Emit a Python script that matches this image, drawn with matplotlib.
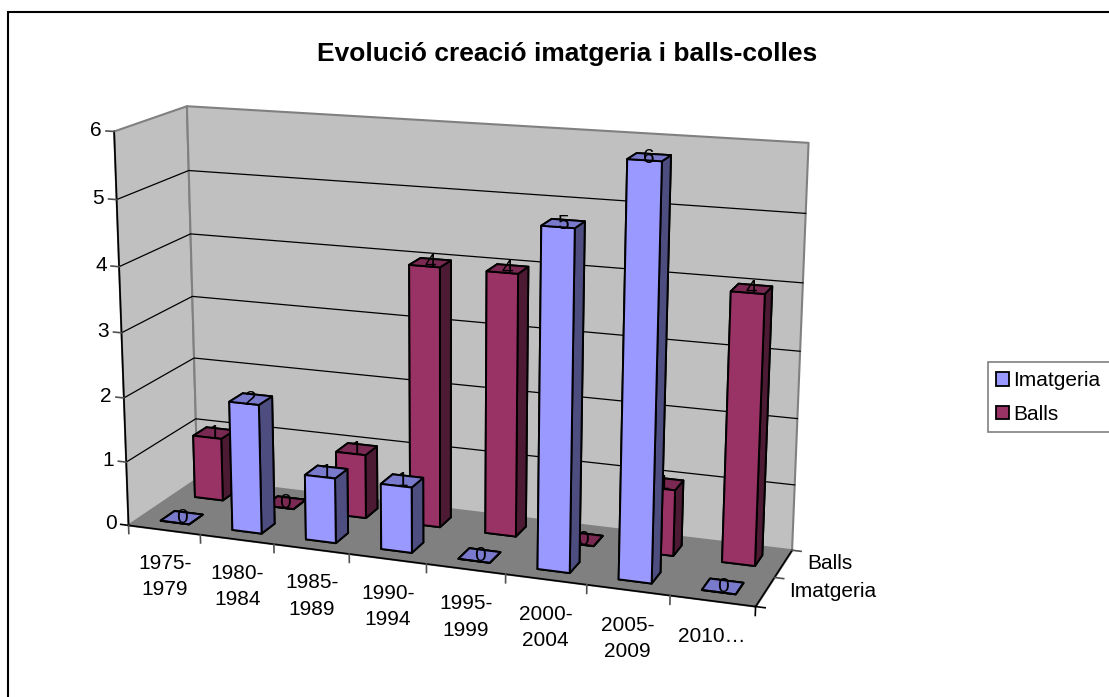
import numpy as np
import matplotlib
matplotlib.use("Agg")
import matplotlib.pyplot as plt
from matplotlib.patches import Patch, Rectangle
from mpl_toolkits.mplot3d import proj3d
from mpl_toolkits.mplot3d.art3d import Poly3DCollection

W, H = 1109, 697
plt.rcParams["font.family"] = ["Liberation Sans", "DejaVu Sans"]

categories = ["1975-\n1979", "1980-\n1984", "1985-\n1989", "1990-\n1994",
              "1995-\n1999", "2000-\n2004", "2005-\n2009", "2010…"]
imatgeria = [0, 2, 1, 1, 0, 5, 6, 0]
balls = [1, 0, 1, 4, 4, 0, 1, 4]
series_names = ["Imatgeria", "Balls"]
title = "Evolució creació imatgeria i balls-colles"

# faces: -z, +z, -y, +y, -x, +x
IMAT = ["#7A7ACC", "#7A7ACC", "#9999FF", "#9999FF", "#4D4D80", "#4D4D80"]
BALL = ["#7A2952", "#7A2952", "#993366", "#993366", "#4D1A33", "#4D1A33"]
FS = 15

# where the box and a few bar corners sit in the picture, used for the camera
anchors = [((0,0,0),(128.3,525)),((0,0,6),(113.3,131.3)),((0,2,6),(187.3,106.7)),((0,2,5),(190,170)),
           ((0,0,5),(116,199.3)),((0,0,1),(126.7,461.7)),((8,2,6),(809,142.7)),((8,0,0),(755.3,606.7)),
           ((8,2,0),(791.7,548.3)),((0,2,0),(195,481.7)),((1,0,0),(200,535)),((2,0,0),(273.3,544.3)),
           ((5,0,0),(505,575)),((6,0,0),(586.7,586)),((7,0,0),(670,597)),((8,1,0),(775,576.7)),
           ((6.3,.3,6),(626.7,159.3)),((6.7,.3,6),(661.7,161.7)),((.3,.3,0),(161.7,520)),
           ((.7,.3,0),(190.7,523.3)),((.7,.7,0),(203.3,513.3)),((5.3,.3,0),(538.3,568.3)),
           ((5.7,.3,0),(570,573.3))]


def fit_camera(pairs):
    # plain DLT, pixels scaled down so the system is not badly conditioned
    A = []
    for (x, y, z), (u, v) in pairs:
        u, v = u / 1000, (H - v) / 1000
        A.append([x, y, z, 1, 0, 0, 0, 0, -u*x, -u*y, -u*z, -u])
        A.append([0, 0, 0, 0, x, y, z, 1, -v*x, -v*y, -v*z, -v])
    P = np.linalg.svd(np.array(A))[2][-1].reshape(3, 4)
    if P[2] @ [4, 1, 3, 1] < 0:
        P = -P
    return P


P = fit_camera(anchors)

fig = plt.figure(figsize=(W/100, H/100), dpi=100)
# the 3d axes is forced square, so make it larger than the figure
ax = fig.add_axes([-0.1, -0.4, 1.2, 1.8], projection="3d", computed_zorder=False)
ax.patch.set_alpha(0)


def get_proj():
    # picture-space camera: 2d axes coords from scaled pixels, depth from w
    inv = ax.transData.inverted()
    (x0, y0), (x1, y1) = inv.transform([(0, 0), (1000, 1000)])
    return np.array([(x1-x0)*P[0] + x0*P[2],
                     (y1-y0)*P[1] + y0*P[2],
                     [0, 0, 0, -1],
                     P[2]])


ax.get_proj = get_proj
ax.set_axis_off()
ax.set_xlim(0, 8, view_margin=0)
ax.set_ylim(0, 2, view_margin=0)
ax.set_zlim(0, 6, view_margin=0)
ax.apply_aspect()


def label(x, y, z, s, **kw):
    # flat text at the projected spot, the bars go by the same camera
    px, py, _ = proj3d.proj_transform(x, y, z, get_proj())
    ax.text2D(px, py, s, transform=ax.transData, fontsize=FS, **kw)


# walls and floor
walls = [[(0,0,0), (0,2,0), (0,2,6), (0,0,6)],
         [(0,2,0), (8,2,0), (8,2,6), (0,2,6)]]
ax.add_collection3d(Poly3DCollection(walls, facecolors="#C0C0C0", edgecolors="#808080",
                                     linewidths=1.5, zorder=1))
ax.add_collection3d(Poly3DCollection([[(0,0,0), (8,0,0), (8,2,0), (0,2,0)]], facecolors="#808080",
                                     edgecolors="#808080", linewidths=1, zorder=1))

for k in range(1, 6):
    ax.plot([0, 0, 8], [0, 2, 2], [k, k, k], color="black", lw=0.9, zorder=2)

# axis lines and ticks
ax.plot([0, 0], [0, 0], [0, 6], color="black", lw=1.2, zorder=3)
ax.plot([0, 8, 8], [0, 0, 2], [0, 0, 0], color="black", lw=1.2, zorder=3)
for k in range(7):
    ax.plot([-0.11, 0], [0, 0], [k, k], color="#505050" if k else "black", lw=1.2, zorder=3)
    label(-0.17, 0, k, str(k), ha="right", va="center", zorder=3)
for i in range(9):
    ax.plot([i, i], [0, 0], [0, -0.13], color="#505050" if i < 8 else "black", lw=1.2, zorder=3)
for j in range(3):
    ax.plot([8, 8.11], [j, j], [0, 0], color="#505050" if j else "black", lw=1.2, zorder=3)
for i, lab in enumerate(categories):
    label(i + 0.5, 0, -0.38, lab, ha="center", va="top", linespacing=1.5, zorder=3)
for j, lab in enumerate(series_names):
    label(8.28, j + 0.5, 0.05, lab, ha="left", va="center", zorder=3)

# back row first, then left to right, labels go with their bar
z = 10
for j, (values, cols) in reversed(list(enumerate(zip([imatgeria, balls], [IMAT, BALL])))):
    for i, v in enumerate(values):
        ax.bar3d(i + 0.3, j + 0.3, 0, 0.4, 0.4, v, color=cols, edgecolor="black",
                 linewidth=1.4, shade=False, zorder=z)
        label(i + 0.5, j + 0.5, v, str(v), ha="center", va="center", zorder=z + 0.5)
        z += 1

fig.text(567/W, 1 - 54.5/H, title, ha="center", va="center", fontsize=19, fontweight="bold")

# outer frame runs off the right and bottom of the picture
fig.add_artist(Rectangle((8/W, -20/H), 1120/W, 1 + 20/H - 12/H, transform=fig.transFigure, fill=False,
                         edgecolor="black", linewidth=1.5))

fig.add_artist(Rectangle((988/W, 1 - 432/H), 140/W, 70/H, transform=fig.transFigure, facecolor="white",
                         edgecolor="#808080", linewidth=1.2, zorder=4))
handles = [Patch(facecolor="#9999FF", edgecolor="black", linewidth=1.3),
           Patch(facecolor="#993366", edgecolor="black", linewidth=1.3)]
fig.legend(handles, series_names, loc="upper left", bbox_to_anchor=(987/W, 1 - 362/H), fontsize=FS,
           frameon=False, handlelength=0.6, handleheight=0.6, handletextpad=0.2, borderpad=0.45,
           labelspacing=0.7, borderaxespad=0)

fig.savefig("out.png", dpi=100)
